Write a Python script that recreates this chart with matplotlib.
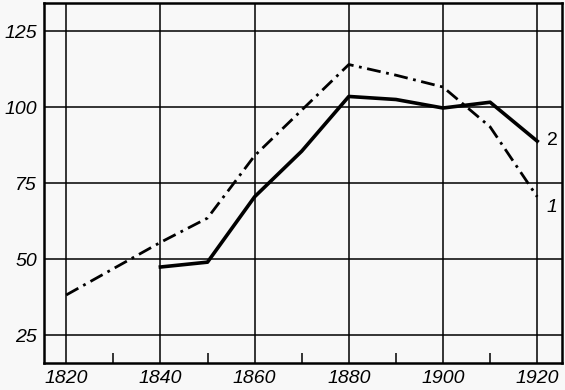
import matplotlib.pyplot as plt
import numpy as np

years_1 = [1820, 1840, 1850, 1860, 1870, 1880, 1890, 1900, 1910, 1920]
series_1 = [38.2, 55.5, 63.5, 84, 99, 114, 110.5, 106.6, 93.5, 70.5]

years_2 = [1840, 1850, 1860, 1870, 1880, 1890, 1900, 1910, 1920]
series_2 = [47.4, 49, 70.5, 85.5, 103.5, 102.5, 99.7, 101.6, 88.8]

x_ticks = [1820, 1840, 1860, 1880, 1900, 1920]
x_minor = [1830, 1850, 1870, 1890, 1910]
y_ticks = [25, 50, 75, 100, 125]

plt.rcParams['font.family'] = ['Liberation Sans', 'DejaVu Sans']

fig = plt.figure(figsize=(5.65, 3.9), dpi=100, facecolor='#f8f8f8')
ax = fig.add_axes([0.078, 0.069, 0.917, 0.923])
ax.set_facecolor('#f8f8f8')

ax.set_xlim(1815.3, 1925.3)
ax.set_ylim(15.8, 134.2)

ax.set_xticks(x_ticks)
ax.set_xticklabels([str(v) for v in x_ticks], fontsize=14, fontstyle='italic')
ax.set_yticks(y_ticks)
ax.set_yticklabels([str(v) for v in y_ticks], fontsize=14, fontstyle='italic')
ax.set_xticks(x_minor, minor=True)
ax.grid(True, which='major', color='black', linewidth=1.1)
ax.set_axisbelow(True)
ax.tick_params(which='major', length=0, pad=5)
ax.tick_params(which='minor', axis='x', direction='in', length=7, width=1.1, color='black')
for s in ax.spines.values():
    s.set_linewidth(1.8)

ax.plot(years_1, series_1, color='black', linewidth=2.0, linestyle=(0, (5, 2, 1, 2)))
ax.plot(years_2, series_2, color='black', linewidth=2.6)

ax.text(1922.0, 89, '2', fontsize=14, ha='left', va='center')
ax.text(1922.0, 67, '1', fontsize=14, ha='left', va='center', fontstyle='italic')

fig.savefig('out.png', dpi=100, facecolor=fig.get_facecolor())
